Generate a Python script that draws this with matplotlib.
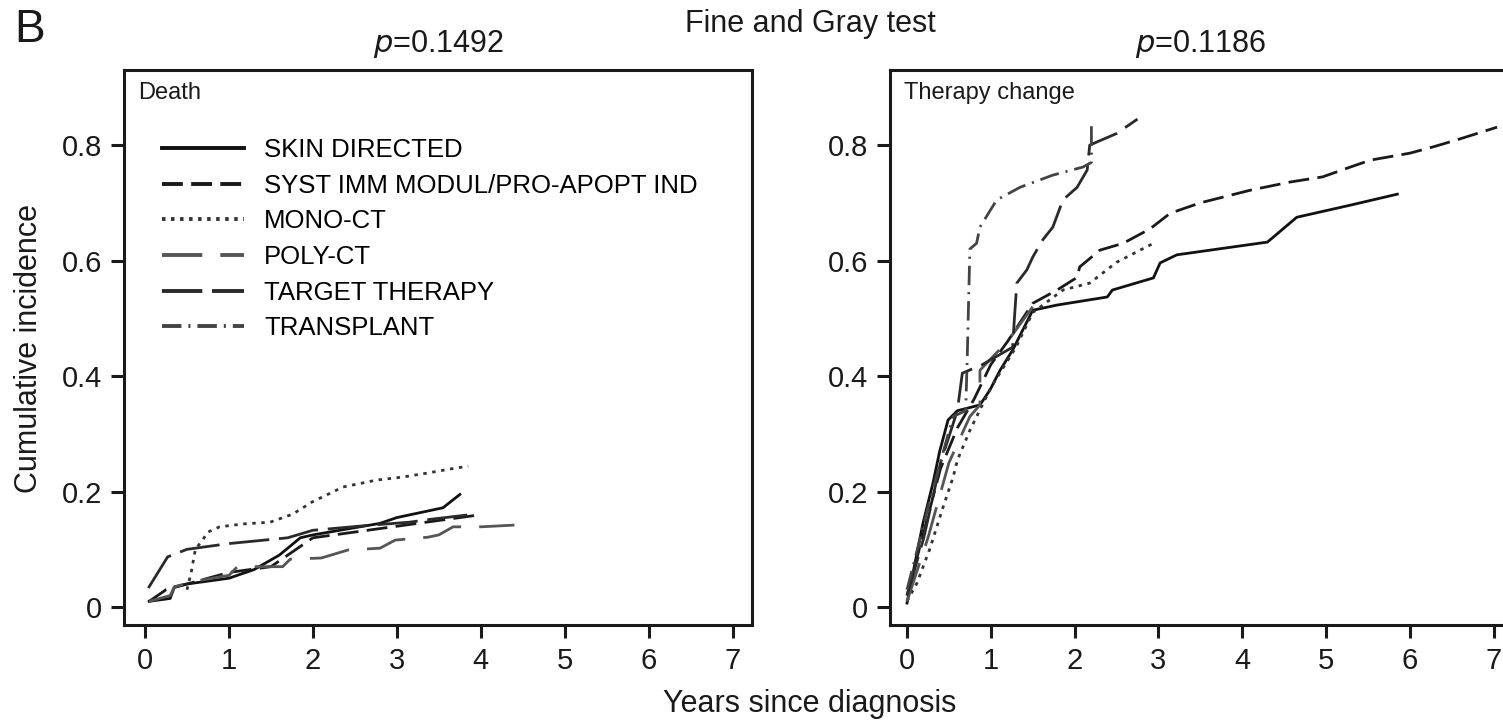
import matplotlib
matplotlib.use("Agg")
import matplotlib.pyplot as plt
from matplotlib.lines import Line2D
from matplotlib.ticker import FuncFormatter

plt.rcParams['font.family'] = ['Liberation Sans', 'DejaVu Sans']
plt.rcParams['lines.scale_dashes'] = False

# ---------------- data ----------------
groups = ["SKIN DIRECTED", "SYST IMM MODUL/PRO-APOPT IND", "MONO-CT",
          "POLY-CT", "TARGET THERAPY", "TRANSPLANT"]
x_ticks = [0, 1, 2, 3, 4, 5, 6, 7]
y_ticks = [0, 0.2, 0.4, 0.6, 0.8]
panel_names = ["Death", "Therapy change"]
p_values = ["0.1492", "0.1186"]

# Death panel
death_skin_x = [0.05, 0.3, 0.35, 0.5, 1.0, 1.3, 1.6, 1.85, 2.0, 2.8, 3.0, 3.55, 3.75]
death_skin_y = [0.01, 0.015, 0.035, 0.04, 0.05, 0.065, 0.09, 0.12, 0.125, 0.145, 0.155, 0.172, 0.195]
death_syst_x = [0.05, 0.25, 0.5, 1.0, 1.5, 2.0, 2.5, 3.0, 3.5, 4.0]
death_syst_y = [0.01, 0.03, 0.04, 0.06, 0.07, 0.12, 0.13, 0.14, 0.15, 0.16]
death_mono_x = [0.5, 0.55, 0.6, 0.68, 0.75, 0.89, 1.17, 1.49, 1.76, 1.99, 2.36, 2.76, 3.06, 3.36, 3.63, 3.85]
death_mono_y = [0.03, 0.06, 0.10, 0.115, 0.13, 0.139, 0.144, 0.147, 0.161, 0.182, 0.208, 0.22, 0.225, 0.232, 0.239, 0.244]
death_poly_x = [0.05, 0.3, 0.35, 0.6, 1.0, 1.1, 1.64, 1.73, 2.1, 2.42, 2.8, 2.98, 3.37, 3.5, 3.67, 4.0, 4.4]
death_poly_y = [0.01, 0.02, 0.035, 0.045, 0.055, 0.07, 0.07, 0.083, 0.085, 0.099, 0.102, 0.116, 0.121, 0.125, 0.139, 0.139, 0.142]
death_target_x = [0.04, 0.27, 0.5, 1.0, 1.7, 2.0, 2.7, 3.15, 3.4, 3.87]
death_target_y = [0.033, 0.087, 0.10, 0.11, 0.12, 0.133, 0.142, 0.147, 0.152, 0.16]

# Therapy change panel
ther_skin_x = [0, 0.19, 0.31, 0.39, 0.49, 0.6, 0.87, 0.99, 1.11, 1.26, 1.5, 1.79, 2.39, 2.45,
               2.94, 3.02, 3.22, 4.3, 4.65, 5.29, 5.85]
ther_skin_y = [0.007, 0.145, 0.215, 0.27, 0.324, 0.34, 0.35, 0.376, 0.41, 0.445, 0.514, 0.523,
               0.537, 0.549, 0.57, 0.596, 0.61, 0.632, 0.675, 0.696, 0.715]
ther_syst_x = [0, 0.2, 0.4, 0.6, 0.8, 1.0, 1.2, 1.5, 1.79, 2.03, 2.06, 2.3, 2.58, 2.9, 3.14,
               3.5, 4.1, 4.57, 4.96, 5.29, 5.53, 6.0, 6.28, 6.56, 7.04]
ther_syst_y = [0.02, 0.13, 0.24, 0.31, 0.36, 0.42, 0.46, 0.526, 0.549, 0.571, 0.589, 0.618,
               0.63, 0.655, 0.682, 0.7, 0.722, 0.736, 0.745, 0.762, 0.774, 0.786, 0.797, 0.809, 0.831]
ther_mono_x = [0, 0.12, 0.27, 0.43, 0.55, 0.6, 0.75, 1.0, 1.3, 1.5, 1.86, 2.18, 2.5, 2.9, 2.95]
ther_mono_y = [0.01, 0.042, 0.1, 0.173, 0.225, 0.254, 0.306, 0.38, 0.45, 0.51, 0.549, 0.561,
               0.597, 0.627, 0.63]
ther_poly_x = [0, 0.25, 0.5, 0.75, 0.87, 0.87, 1.0, 1.2, 1.4, 1.5]
ther_poly_y = [0.01, 0.12, 0.25, 0.33, 0.35, 0.41, 0.43, 0.46, 0.5, 0.52]
ther_target_x = [0, 0.2, 0.4, 0.6, 0.66, 0.9, 1.26, 1.28, 1.31, 1.43, 1.5, 1.62, 1.74, 1.86,
                 2.03, 2.15, 2.18, 2.5, 2.75]
ther_target_y = [0.02, 0.12, 0.25, 0.34, 0.405, 0.42, 0.45, 0.497, 0.561, 0.584, 0.606, 0.636,
                 0.658, 0.705, 0.727, 0.757, 0.80, 0.82, 0.845]
ther_trans_x = [0, 0.3, 0.55, 0.7, 0.72, 0.75, 0.83, 0.87, 1.07, 1.35, 1.74, 2.1, 2.2, 2.2]
ther_trans_y = [0.03, 0.2, 0.33, 0.34, 0.44, 0.62, 0.63, 0.658, 0.705, 0.727, 0.748, 0.762,
                0.77, 0.835]

# ---------------- styles ----------------
styles = {
    "SKIN DIRECTED": dict(color="#111111", linestyle="-"),
    "SYST IMM MODUL/PRO-APOPT IND": dict(color="#1a1a1a", linestyle=(0, (15, 6))),
    "MONO-CT": dict(color="#333333", linestyle=(0, (2.5, 4))),
    "POLY-CT": dict(color="#555555", linestyle=(0, (29, 13))),
    "TARGET THERAPY": dict(color="#2a2a2a", linestyle=(0, (29, 7))),
    "TRANSPLANT": dict(color="#444444", linestyle=(0, (14, 5, 1.5, 5))),
}
LW = 2.0

fig = plt.figure(figsize=(15.03, 7.2), dpi=100)
W, H = 1503.0, 720.0
ax1 = fig.add_axes([124 / W, 1 - 625 / H, (752 - 124) / W, (625 - 70) / H])
ax2 = fig.add_axes([890 / W, 1 - 625 / H, (1513 - 890) / W, (625 - 70) / H])

death = [(death_skin_x, death_skin_y, groups[0]),
         (death_syst_x, death_syst_y, groups[1]),
         (death_mono_x, death_mono_y, groups[2]),
         (death_poly_x, death_poly_y, groups[3]),
         (death_target_x, death_target_y, groups[4])]
therapy = [(ther_skin_x, ther_skin_y, groups[0]),
           (ther_syst_x, ther_syst_y, groups[1]),
           (ther_mono_x, ther_mono_y, groups[2]),
           (ther_poly_x, ther_poly_y, groups[3]),
           (ther_target_x, ther_target_y, groups[4]),
           (ther_trans_x, ther_trans_y, groups[5])]

fmt = FuncFormatter(lambda v, pos: "0" if abs(v) < 1e-9 else f"{v:.1f}")
for ax, series, xl, name in [(ax1, death, (-0.25, 7.23), panel_names[0]),
                             (ax2, therapy, (-0.203, 7.23), panel_names[1])]:
    for xs, ys, g in series:
        ax.plot(xs, ys, lw=LW, **styles[g])
    ax.set_xlim(*xl)
    ax.set_ylim(-0.031, 0.930)
    ax.set_xticks(x_ticks)
    ax.set_yticks(y_ticks)
    ax.yaxis.set_major_formatter(fmt)
    ax.tick_params(direction="out", length=9.5, width=2.2, labelsize=21, pad=6,
                   colors="#1a1a1a")
    for sp in ax.spines.values():
        sp.set_linewidth(2.2)
        sp.set_color("#1a1a1a")
    ax.text(0.022, 0.958, name, transform=ax.transAxes, fontsize=17,
            ha="left", va="center", color="#1a1a1a")

handles = [Line2D([0], [0], lw=2.8, **styles[g]) for g in groups]
ax1.legend(handles, groups, loc="upper left", bbox_to_anchor=(0.0605, 0.877),
           frameon=False, fontsize=18.5, handlelength=3.2, handletextpad=0.78,
           labelspacing=0.45, borderpad=0, borderaxespad=0)

# texts
fig.text(14 / W, 1 - 30 / H, "B", fontsize=33, ha="left", va="center", color="#1a1a1a")
fig.text(810 / W, 1 - 24 / H, "Fine and Gray test", fontsize=22, ha="center",
         va="center", color="#1a1a1a")
fig.text(438 / W, 1 - 44 / H, r"$p$=" + p_values[0], fontsize=22, ha="center",
         va="center", color="#1a1a1a")
fig.text(1201 / W, 1 - 44 / H, r"$p$=" + p_values[1], fontsize=22, ha="center",
         va="center", color="#1a1a1a")
fig.text(810 / W, 1 - 712 / H, "Years since diagnosis", fontsize=22, ha="center",
         va="baseline", color="#1a1a1a")
fig.text(29 / W, 1 - 348 / H, "Cumulative incidence", fontsize=22, ha="center",
         va="center", rotation=90, color="#1a1a1a")

fig.savefig("out.png", dpi=100)
